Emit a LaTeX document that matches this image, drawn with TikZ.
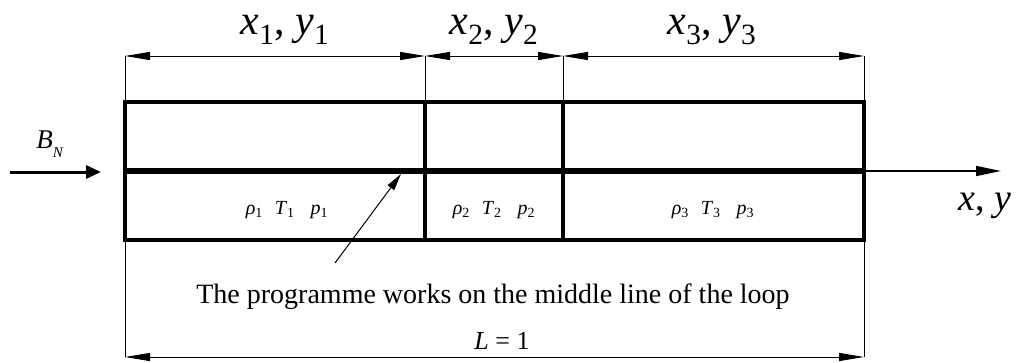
\documentclass[tikz,border=0pt]{standalone}
\usepackage{fontspec}
\setmainfont{Liberation Serif}[ItalicFont={Liberation Serif Italic}]
\usetikzlibrary{arrows.meta}
\newcommand{\lbl}[2]{\textit{#1}\textsubscript{#2}}
\begin{document}
\begin{tikzpicture}[x=1pt,y=-1pt,
  boxline/.style={line width=3.5pt},
  midline/.style={line width=5.5pt},
  dimline/.style={line width=0.9pt,{Triangle[length=25pt,width=8pt]}-{Triangle[length=25pt,width=8pt]}},
  extline/.style={line width=0.9pt},
  biglab/.style={font=\fontsize{42}{42}\selectfont, inner sep=0pt, anchor=base},
  cellab/.style={font=\fontsize{20}{20}\selectfont, inner sep=0pt, anchor=base},
  txt/.style={font=\fontsize{28}{28}\selectfont, inner sep=0pt, anchor=base}]
\useasboundingbox (0,0) rectangle (1017,362);
% key coordinates
\coordinate (a1) at (125,102); \coordinate (a2) at (425,102);
\coordinate (a3) at (563,102); \coordinate (a4) at (864,102);
\coordinate (m1) at (125,171); \coordinate (m4) at (864,171);
\coordinate (b1) at (125,240); \coordinate (b2) at (425,240);
\coordinate (b3) at (563,240); \coordinate (b4) at (864,240);
\coordinate (t1) at (125,56); \coordinate (t2) at (425,56);
\coordinate (t3) at (563,56); \coordinate (t4) at (864,56);
\coordinate (d1) at (125,357); \coordinate (d4) at (864,357);
% boxes
\draw[boxline] (a1) rectangle (b4);
\draw[boxline] (a2) -- (b2);
\draw[boxline] (a3) -- (b3);
\draw[midline] (m1) -- (m4);
% extension lines
\draw[extline] (t1) -- (a1);
\draw[extline] (t2) -- (a2);
\draw[extline] (t3) -- (a3);
\draw[extline] (t4) -- (a4);
\draw[extline] (b1) -- (d1);
\draw[extline] (b4) -- (d4);
% dimension lines
\draw[dimline] (t1) -- (t2);
\draw[dimline] (t2) -- (t3);
\draw[dimline] (t3) -- (t4);
\draw[dimline] (d1) -- (d4);
% top labels
\node[biglab] (l1) at (285,34) {\lbl{x}{1}, \lbl{y}{1}};
\node[biglab] (l2) at (494,34) {\lbl{x}{2}, \lbl{y}{2}};
\node[biglab] (l3) at (712,34) {\lbl{x}{3}, \lbl{y}{3}};
% cell labels
\node[cellab] (c1) at (287,214) {\lbl{ρ}{1}\hspace{0.6em}\lbl{T}{1}\hspace{0.8em}\lbl{p}{1}};
\node[cellab] (c2) at (494,214) {\lbl{ρ}{2}\hspace{0.6em}\lbl{T}{2}\hspace{0.8em}\lbl{p}{2}};
\node[cellab] (c3) at (713,214) {\lbl{ρ}{3}\hspace{0.6em}\lbl{T}{3}\hspace{0.8em}\lbl{p}{3}};
% inflow
\node[font=\fontsize{27}{27}\selectfont, inner sep=0pt, anchor=base] (bn) at (50,148) {\textit{B}\raisebox{-0.35em}{\fontsize{15}{15}\selectfont\textit{N}}};
\coordinate (in0) at (10,172);
\coordinate (in1) at (101,172);
\draw[line width=3pt,-{Triangle[length=15pt,width=13pt]}] (in0) -- (in1);
% axis
\coordinate (ax) at (1001,171);
\draw[line width=1.5pt,-{Triangle[length=25pt,width=10pt]}] (m4) -- (ax);
\node[font=\fontsize{38}{38}\selectfont, inner sep=0pt, anchor=base] (xy) at (985,210) {\textit{x}, \textit{y}};
% annotation
\node[txt] (note) at (493,303) {The programme works on the middle line of the loop};
\coordinate (ps) at (335,263);
\coordinate (pe) at (401,174);
\draw[line width=1pt,-{Triangle[length=17pt,width=8pt]}] (ps) -- (pe);
\node[font=\fontsize{26}{26}\selectfont, inner sep=0pt, anchor=base] (L) at (502,349) {\textit{L} = 1};
\end{tikzpicture}
\end{document}
